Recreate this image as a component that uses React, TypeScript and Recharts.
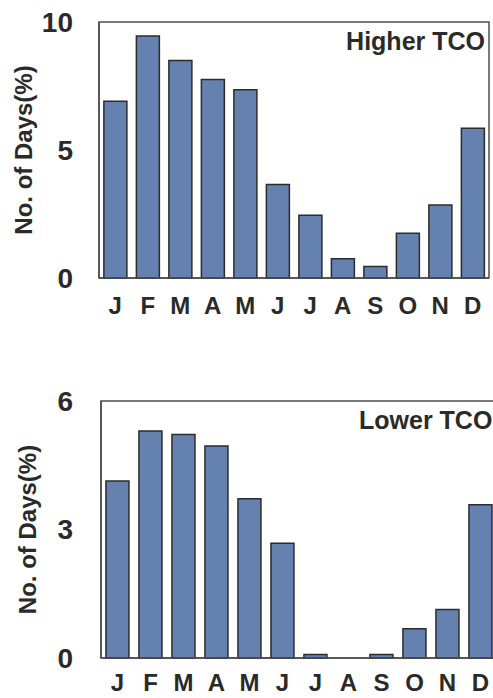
import { BarChart, Bar, XAxis, YAxis, ReferenceArea } from "recharts";

const months = ["J", "F", "M", "A", "M", "J", "J", "A", "S", "O", "N", "D"];
const higherTco = [6.9, 9.45, 8.5, 7.75, 7.35, 3.65, 2.45, 0.75, 0.45, 1.75, 2.85, 5.85];
const lowerTco = [4.13, 5.3, 5.22, 4.95, 3.72, 2.68, 0.08, 0, 0.08, 0.68, 1.13, 3.58];
const higherTicks = [0, 5, 10];
const lowerTicks = [0, 3, 6];

const higherData = months.map((m, i) => ({ month: m, value: higherTco[i] }));
const lowerData = months.map((m, i) => ({ month: m, value: lowerTco[i] }));

const FONT = '"Liberation Sans", Arial, sans-serif';
const TEXT = "#2a2a2a";
const BAR = "#6581af";
const FRAME = "#4d4d4d";

interface PanelProps {
  data: { month: string; value: number }[];
  ticks: number[];
  width: number;
  height: number;
  top: number;
  right: number;
  yWidth: number;
  xHeight: number;
  xMargin: number;
  yMargin: number;
  labelOffset: number;
}

function Panel({ data, ticks, width, height, top, right, yWidth, xHeight, xMargin, yMargin, labelOffset }: PanelProps) {
  const lo = ticks[0];
  const hi = ticks[ticks.length - 1];
  return (
    <BarChart
      width={width}
      height={height}
      data={data}
      margin={{ top, right, bottom: 0, left: 0 }}
      barCategoryGap="15%"
    >
      <XAxis
        dataKey="month"
        height={xHeight}
        tickLine={false}
        tickSize={0}
        tickMargin={xMargin}
        axisLine={{ stroke: FRAME, strokeWidth: 1.5 }}
        tick={{ fontSize: 24, fontWeight: 700, fill: TEXT, fontFamily: FONT }}
        interval={0}
      />
      <YAxis
        domain={[lo, hi]}
        ticks={ticks}
        width={yWidth}
        tickLine={false}
        tickSize={0}
        tickMargin={yMargin}
        axisLine={{ stroke: FRAME, strokeWidth: 1.5 }}
        tick={{ fontSize: 28, fontWeight: 700, fill: TEXT, fontFamily: FONT }}
        label={{
          value: "No. of Days(%)",
          angle: -90,
          position: "insideLeft",
          offset: labelOffset,
          style: { textAnchor: "middle", fontSize: 24, fontWeight: 700, fill: TEXT, fontFamily: FONT },
        }}
      />
      {/* frame round the plot */}
      <ReferenceArea y1={lo} y2={hi} fill="none" stroke={FRAME} strokeWidth={1.5} ifOverflow="visible" />
      <Bar dataKey="value" fill={BAR} stroke="#2c2c2c" strokeWidth={1.5} isAnimationActive={false} />
    </BarChart>
  );
}

const titleStyle: React.CSSProperties = {
  position: "absolute",
  fontFamily: FONT,
  fontWeight: 700,
  fontSize: 25,
  lineHeight: "25px",
  color: TEXT,
  whiteSpace: "nowrap",
};

export default function App() {
  return (
    <div style={{ position: "absolute", left: 0, top: 0, width: 493, height: 698, overflow: "hidden", background: "#fff" }}>
      <div style={{ position: "absolute", left: 0, top: 0 }}>
        <Panel data={higherData} ticks={higherTicks} width={493} height={340} top={22} right={4} yWidth={99} xHeight={62} xMargin={19} yMargin={26} labelOffset={23} />
      </div>
      <div style={{ ...titleStyle, right: 8, top: 29 }}>Higher TCO</div>
      <div style={{ position: "absolute", left: 0, top: 370 }}>
        <Panel data={lowerData} ticks={lowerTicks} width={500} height={328} top={31} right={3} yWidth={101} xHeight={40} xMargin={16} yMargin={28} labelOffset={27} />
      </div>
      <div style={{ ...titleStyle, left: 359, top: 408 }}>Lower TCO</div>
    </div>
  );
}
